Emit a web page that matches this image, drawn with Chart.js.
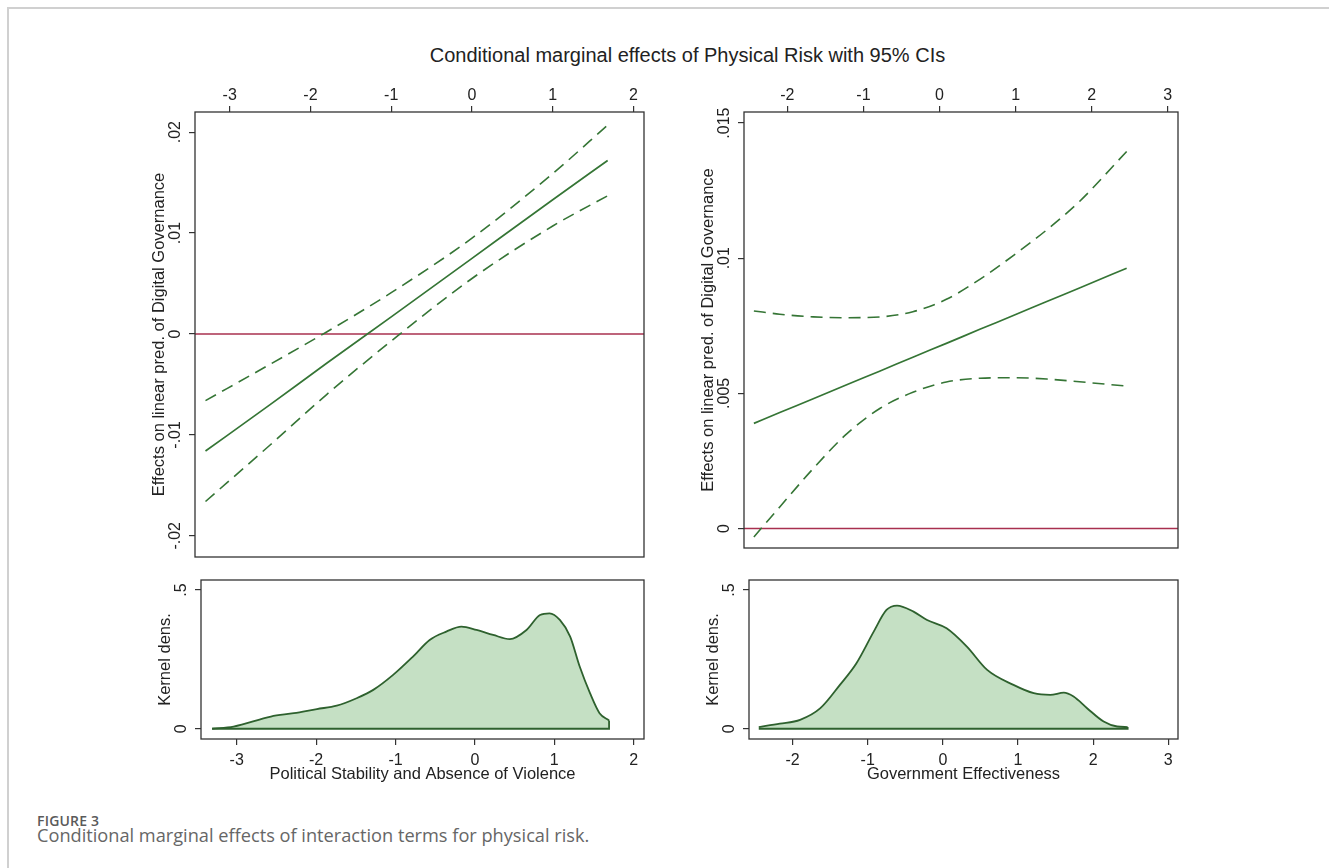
<!DOCTYPE html>
<html>
<head>
<meta charset="utf-8">
<script src="https://cdn.jsdelivr.net/npm/chart.js@4.4.0/dist/chart.umd.min.js"></script>
<style>
  html { overflow: hidden; }
  body { margin: 0; background: #fff; width: 1329px; height: 868px; position: relative; overflow: hidden; font-family: "Liberation Sans", Arial, sans-serif; }
  .page-edge { position: absolute; left: 7px; top: 7px; width: 1330px; height: 870px; border-top: 2px solid #d0d0d0; border-left: 2px solid #d0d0d0; }
  #title { position: absolute; left: 0; width: 1375px; top: 43px; line-height: 24px; text-align: center; font-size: 20px; color: #222; }
  #figno { position: absolute; left: 37px; top: 811px; line-height: 16px; font: 600 14px "Open Sans", sans-serif; color: #5a5a5a; letter-spacing: 0.2px; }
  #caption { position: absolute; left: 37px; top: 823px; line-height: 22px; font: 400 18.2px "Open Sans", sans-serif; color: #666; }
  canvas { position: absolute; }
</style>
</head>
<body>
<div class="page-edge"></div>
<div id="title">Conditional marginal effects of Physical Risk with 95% CIs</div>
<div id="figno">FIGURE 3</div>
<div id="caption">Conditional marginal effects of interaction terms for physical risk.</div>

<script>
// tick marks and labels
const xTicksPS = [-3, -2, -1, 0, 1, 2];
const xTicksGE = [-2, -1, 0, 1, 2, 3];
const yTicksPS = [-0.02, -0.01, 0, 0.01, 0.02];
const yLabelsPS = ['-.02', '-.01', '0', '.01', '.02'];
const yTicksGE = [0, 0.005, 0.01, 0.015];
const yLabelsGE = ['0', '.005', '.01', '.015'];
const yTicksKde = [0, 0.5];
const yLabelsKde = ['0', '.5'];

// axis ranges
const xRangePS = [-3.43, 2.13];
const xRangeGE = [-2.57, 3.135];
const yRangePS = [-0.0221, 0.022];
const yRangeGE = [-0.00072, 0.01541];
const yRangeKde = [-0.037, 0.536];

// Political Stability: marginal effect with 95% CI
const psX = [-3.3, -2.5, -1.8, -1, 0, 1, 1.68];
const psEffect = [-0.0116, -0.0070, -0.0029, 0.0017, 0.0075, 0.0133, 0.0172];
const psUpper = [-0.0066, -0.0030, 0.0002, 0.0041, 0.0095, 0.0159, 0.0207];
const psLower = [-0.0166, -0.0110, -0.0060, -0.0007, 0.0055, 0.0107, 0.0137];

// Government Effectiveness: marginal effect with 95% CI
const geX = [-2.44, -2.1, -1.66, -1.22, -0.78, -0.35, 0.09, 0.53, 0.97, 1.41, 1.84, 2.46];
const geEffect = [0.00389, 0.00429, 0.00480, 0.00532, 0.00583, 0.00634, 0.00685, 0.00737, 0.00788, 0.00840, 0.00890, 0.00963];
const geUpper = [0.00805, 0.00793, 0.00783, 0.00780, 0.00783, 0.00802, 0.00848, 0.00922, 0.01010, 0.01105, 0.01210, 0.01395];
const geLower = [-0.00031, 0.00080, 0.00222, 0.00350, 0.00445, 0.00504, 0.00542, 0.00556, 0.00558, 0.00553, 0.00543, 0.00527];

// kernel densities
const kdePSX = [-3.31, -3.04, -2.57, -2.28, -1.99, -1.74, -1.49, -1.28, -1.03, -0.78, -0.57, -0.36, -0.17, 0.02, 0.23, 0.44, 0.65, 0.82, 0.94, 1.07, 1.20, 1.32, 1.45, 1.57, 1.69];
const kdePSY = [0, 0.008, 0.044, 0.056, 0.071, 0.083, 0.110, 0.140, 0.194, 0.260, 0.320, 0.350, 0.368, 0.356, 0.338, 0.323, 0.356, 0.410, 0.416, 0.392, 0.332, 0.224, 0.128, 0.056, 0.030];
const kdeGEX = [-2.45, -2.17, -1.90, -1.63, -1.37, -1.15, -0.92, -0.75, -0.61, -0.39, -0.21, 0.05, 0.32, 0.59, 0.94, 1.21, 1.43, 1.61, 1.74, 1.92, 2.14, 2.32, 2.46];
const kdeGEY = [0.006, 0.018, 0.032, 0.074, 0.158, 0.236, 0.350, 0.428, 0.444, 0.422, 0.392, 0.362, 0.296, 0.212, 0.158, 0.128, 0.122, 0.130, 0.116, 0.074, 0.026, 0.008, 0.006];

const GREEN = '#357535';
const DARKGREEN = '#2e612e';
const FILL = 'rgba(178, 213, 176, 0.75)';
const RED = '#a8304f';
const INK = '#333';
const FONT = '"Liberation Sans", Arial, sans-serif';

const pts = (xs, ys) => xs.map((x, i) => ({ x: x, y: ys[i] }));

// frame, rotated y labels and axis titles (Stata look)
const panelPlugin = {
  id: 'panel',
  afterDraw(chart, args, opts) {
    const ctx = chart.ctx;
    const a = chart.chartArea;
    const y = chart.scales.y;
    ctx.save();
    ctx.strokeStyle = INK;
    ctx.lineWidth = 1.3;
    ctx.strokeRect(a.left, a.top, a.right - a.left, a.bottom - a.top);

    ctx.fillStyle = '#222';
    ctx.textAlign = 'center';
    ctx.textBaseline = 'middle';
    ctx.font = '16px ' + FONT;
    opts.yTicks.forEach((v, i) => {
      ctx.save();
      ctx.translate(a.left - 19, y.getPixelForValue(v));
      ctx.rotate(-Math.PI / 2);
      ctx.fillText(opts.yLabels[i], 0, 0);
      ctx.restore();
    });

    ctx.font = '16.5px ' + FONT;
    ctx.save();
    ctx.translate(a.left - 36, (a.top + a.bottom) / 2);
    ctx.rotate(-Math.PI / 2);
    ctx.fillText(opts.yTitle, 0, 0);
    ctx.restore();

    if (opts.xTitle) {
      ctx.fillText(opts.xTitle, (a.left + a.right) / 2, a.bottom + 35);
    }
    ctx.restore();
  }
};

function makePanel(p) {
  const c = document.createElement('canvas');
  const w = p.right - p.left + p.padL + p.padR;
  const h = p.bottom - p.top + p.padT + p.padB;
  c.width = w;
  c.height = h;
  c.style.left = (p.left - p.padL) + 'px';
  c.style.top = (p.top - p.padT) + 'px';
  c.style.width = w + 'px';
  c.style.height = h + 'px';
  document.body.appendChild(c);

  const grid = { drawOnChartArea: false, drawTicks: true, tickLength: 6, color: INK, lineWidth: 1.2 };

  return new Chart(c, {
    type: 'scatter',
    data: { datasets: p.datasets },
    options: {
      responsive: false,
      animation: false,
      layout: {
        padding: {
          left: 0,
          right: p.padR,
          top: p.xPos === 'top' ? 0 : p.padT,
          bottom: p.xPos === 'bottom' ? 0 : p.padB
        }
      },
      elements: { point: { radius: 0, hoverRadius: 0 } },
      plugins: {
        legend: { display: false },
        tooltip: { enabled: false },
        panel: { yTicks: p.yTicks, yLabels: p.yLabels, yTitle: p.yTitle, xTitle: p.xTitle }
      },
      scales: {
        x: {
          type: 'linear',
          position: p.xPos,
          min: p.xRange[0],
          max: p.xRange[1],
          afterBuildTicks: s => { s.ticks = p.xTicks.map(v => ({ value: v })); },
          afterFit: s => { s.height = p.xPos === 'top' ? p.padT : p.padB; },
          ticks: {
            font: { family: FONT, size: 16 },
            color: '#222',
            padding: p.xPos === 'top' ? 1 : 6,
            maxRotation: 0,
            autoSkip: false,
            callback: v => String(v)
          },
          grid: grid,
          border: { display: false }
        },
        y: {
          type: 'linear',
          position: 'left',
          min: p.yRange[0],
          max: p.yRange[1],
          afterBuildTicks: s => { s.ticks = p.yTicks.map(v => ({ value: v })); },
          afterFit: s => { s.width = p.padL; },
          ticks: { display: false },
          grid: grid,
          border: { display: false }
        }
      }
    },
    plugins: [panelPlugin]
  });
}

function effectSets(xs, eff, up, lo, xRange) {
  const base = { showLine: true, pointRadius: 0, cubicInterpolationMode: 'monotone' };
  return [
    Object.assign({ data: pts(xs, eff), borderColor: GREEN, borderWidth: 1.7 }, base),
    Object.assign({ data: pts(xs, up), borderColor: GREEN, borderWidth: 1.6, borderDash: [12, 7] }, base),
    Object.assign({ data: pts(xs, lo), borderColor: GREEN, borderWidth: 1.6, borderDash: [12, 7] }, base),
    { data: pts(xRange, [0, 0]), borderColor: RED, borderWidth: 1.5, showLine: true, pointRadius: 0 }
  ];
}

function kdeSets(xs, ys) {
  const n = xs.length - 1;
  return [
    { data: pts([xs[0], xs[n], xs[n]], [0, 0, ys[n]]), borderColor: DARKGREEN, borderWidth: 1.8, showLine: true, pointRadius: 0 },
    { data: pts(xs, ys), borderColor: DARKGREEN, borderWidth: 1.8, backgroundColor: FILL, fill: 'origin', showLine: true, pointRadius: 0, cubicInterpolationMode: 'monotone' }
  ];
}

makePanel({
  left: 195, top: 112, right: 644, bottom: 557, padL: 70, padT: 50, padR: 16, padB: 10,
  xPos: 'top', xRange: xRangePS, yRange: yRangePS, xTicks: xTicksPS,
  yTicks: yTicksPS, yLabels: yLabelsPS, yTitle: 'Effects on linear pred. of Digital Governance',
  datasets: effectSets(psX, psEffect, psUpper, psLower, xRangePS)
});

makePanel({
  left: 744, top: 112, right: 1178, bottom: 548, padL: 70, padT: 50, padR: 16, padB: 10,
  xPos: 'top', xRange: xRangeGE, yRange: yRangeGE, xTicks: xTicksGE,
  yTicks: yTicksGE, yLabels: yLabelsGE, yTitle: 'Effects on linear pred. of Digital Governance',
  datasets: effectSets(geX, geEffect, geUpper, geLower, xRangeGE)
});

makePanel({
  left: 201, top: 580, right: 644, bottom: 739, padL: 70, padT: 10, padR: 16, padB: 56,
  xPos: 'bottom', xRange: [-3.45, 2.13], yRange: yRangeKde, xTicks: xTicksPS,
  yTicks: yTicksKde, yLabels: yLabelsKde, yTitle: 'Kernel dens.',
  xTitle: 'Political Stability and Absence of Violence',
  datasets: kdeSets(kdePSX, kdePSY)
});

makePanel({
  left: 749, top: 580, right: 1178, bottom: 739, padL: 70, padT: 10, padR: 16, padB: 56,
  xPos: 'bottom', xRange: [-2.58, 3.13], yRange: yRangeKde, xTicks: xTicksGE,
  yTicks: yTicksKde, yLabels: yLabelsKde, yTitle: 'Kernel dens.',
  xTitle: 'Government Effectiveness',
  datasets: kdeSets(kdeGEX, kdeGEY)
});
</script>
</body>
</html>
